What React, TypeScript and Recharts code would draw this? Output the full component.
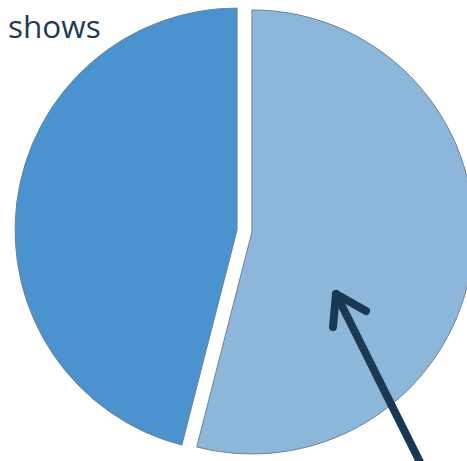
import { PieChart, Pie, Cell } from "recharts";

// slice names and shares (percent), read clockwise from 12 o'clock
const sliceNames = ["Share A", "Share B"];
const sliceValues = [54, 46];
const sliceColors = ["#8db7da", "#4a93cf"];

const data = sliceNames.map((name, i) => ({ name, value: sliceValues[i] }));

const CX = 244.5;
const CY = 231;
const RADIUS = 222;
const EXPLODE = 7.5;

// offset of each slice along its bisector (clockwise from the top)
const total = sliceValues.reduce((a, b) => a + b, 0);
let acc = 0;
const offsets = sliceValues.map((v) => {
  const mid = ((acc + v / 2) / total) * 2 * Math.PI;
  acc += v;
  return { dx: Math.sin(mid) * EXPLODE, dy: -Math.cos(mid) * EXPLODE };
});

export default function App() {
  return (
    <div
      style={{
        position: "absolute",
        left: 0,
        top: 0,
        width: 467,
        height: 461,
        overflow: "hidden",
        background: "#ffffff",
      }}
    >
      <PieChart width={467} height={461} margin={{ top: 0, right: 0, bottom: 0, left: 0 }}>
        {offsets.map((off, k) => (
          <Pie
            key={`pie-${k}`}
            data={data}
            dataKey="value"
            nameKey="name"
            cx={CX + off.dx}
            cy={CY + off.dy}
            outerRadius={RADIUS}
            startAngle={90}
            endAngle={-270}
            isAnimationActive={false}
          >
            {data.map((_, i) => (
              <Cell
                key={`cell-${k}-${i}`}
                fill={i === k ? sliceColors[i] : "none"}
                stroke={i === k ? "#6d8294" : "none"}
                strokeWidth={1}
              />
            ))}
          </Pie>
        ))}
      </PieChart>
      <div
        style={{
          position: "absolute",
          left: 8,
          top: 6,
          fontFamily: "'Open Sans', sans-serif",
          fontSize: 31.5,
          color: "#1f3a52",
          lineHeight: "40px",
        }}
      >
        shows
      </div>
      <svg
        width={467}
        height={461}
        style={{ position: "absolute", left: 0, top: 0, pointerEvents: "none" }}
      >
        <g stroke="#1b3852" strokeWidth={8} strokeLinecap="round" strokeLinejoin="round" fill="none">
          <line x1={424} y1={470} x2={336} y2={294} />
          <polyline points="333,327 336,294 366,311" />
        </g>
      </svg>
    </div>
  );
}
